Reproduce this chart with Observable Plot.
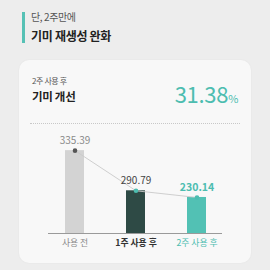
<!DOCTYPE html>
<html><head><meta charset="utf-8">
<script src="https://cdn.jsdelivr.net/npm/d3@7"></script>
<script src="https://cdn.jsdelivr.net/npm/@observablehq/plot@0.6"></script>
<style>
html,body{margin:0;padding:0;width:270px;height:270px;overflow:hidden;background:#ededed;font-family:"Noto Sans CJK KR","Noto Sans",sans-serif;}
#wrap{position:relative;width:270px;height:270px;}
.abs{position:absolute;white-space:nowrap;}
#accent{left:22px;top:12px;width:3px;height:31px;background:#56c1b5;}
#t1{left:31px;top:10px;font-size:10px;color:#555;letter-spacing:-0.4px;line-height:14px;}
#t2{left:31px;top:28px;font-size:12px;font-weight:700;color:#222;letter-spacing:-0.3px;line-height:16px;}
#card{left:19px;top:60px;width:232px;height:203px;background:#f8f8f8;border-radius:10px;box-shadow:0 0 2px rgba(0,0,0,0.05);}
#s1{left:32px;top:75px;font-size:8px;color:#555;letter-spacing:-0.4px;line-height:11px;}
#s2{left:32px;top:89px;font-size:11.5px;font-weight:700;color:#222;letter-spacing:-0.3px;line-height:15px;}
#big{right:32px;top:80px;font-size:22px;color:#4dbdb0;line-height:26px;letter-spacing:-0.3px;}
#big span{font-size:11px;}
#sep{left:30px;top:123px;width:210px;height:0;border-top:1px dotted #c8c8c8;}
#chart{left:0;top:0;}
</style></head>
<body><div id="wrap">
<div id="accent" class="abs"></div>
<div id="t1" class="abs">단, 2주만에</div>
<div id="t2" class="abs">기미 재생성 완화</div>
<div id="card" class="abs"></div>
<div id="s1" class="abs">2주 사용 후</div>
<div id="s2" class="abs">기미 개선</div>
<div id="big" class="abs">31.38<span>%</span></div>
<div id="sep" class="abs"></div>
<div id="chart" class="abs"></div>
</div>
<script>
const categories = ["사용 전", "1주 사용 후", "2주 사용 후"];
const values = [335.39, 290.79, 230.14];
const valueLabels = ["335.39", "290.79", "230.14"];

const barColors = ["#d3d3d3", "#2e4a45", "#52c1b4"];
const dotColors = ["#555555", "#4dbdb0", "#4dbdb0"];
const labelColors = ["#8a8a8a", "#444444", "#4dbdb0"];
const tickColors = ["#8a8a8a", "#333333", "#4dbdb0"];
const labelWeights = ["400", "400", "700"];
const tickWeights = ["400", "700", "400"];

const data = categories.map((c, i) => ({cat: c, v: values[i], lab: valueLabels[i], i}));

const marks = [
  Plot.ruleY([0], {stroke: "#9a9a9a", strokeWidth: 1.2}),
  Plot.barY(data, {x: "cat", y: "v", fill: d => barColors[d.i]}),
  Plot.line(data, {x: "cat", y: "v", stroke: "#c9c9c9", strokeWidth: 0.9}),
  Plot.dot(data, {x: "cat", y: "v", r: 2.3, fill: d => dotColors[d.i], stroke: "none"})
];
data.forEach(d => {
  marks.push(Plot.text([d], {x: "cat", y: "v", text: "lab", dy: -10, fill: labelColors[d.i],
    fontSize: d.i === 2 ? 10.5 : 10, fontWeight: labelWeights[d.i], fontFamily: "Noto Sans CJK KR"}));
  marks.push(Plot.text([d], {x: "cat", text: "cat", frameAnchor: "bottom", dy: 12, fill: tickColors[d.i],
    fontSize: 8.8, fontWeight: tickWeights[d.i], fontFamily: "Noto Sans CJK KR"}));
});

const chart = Plot.plot({
  width: 270, height: 270,
  marginLeft: 48, marginRight: 48, marginTop: 130, marginBottom: 37,
  style: {background: "transparent", overflow: "visible"},
  x: {domain: categories, paddingInner: 0.69, paddingOuter: 0.27, axis: null},
  y: {type: "linear", domain: [180, 230, 290, 340], range: [233, 197, 191, 146], clamp: true, axis: null},
  marks
});
document.getElementById("chart").appendChild(chart);
</script>
</body></html>
